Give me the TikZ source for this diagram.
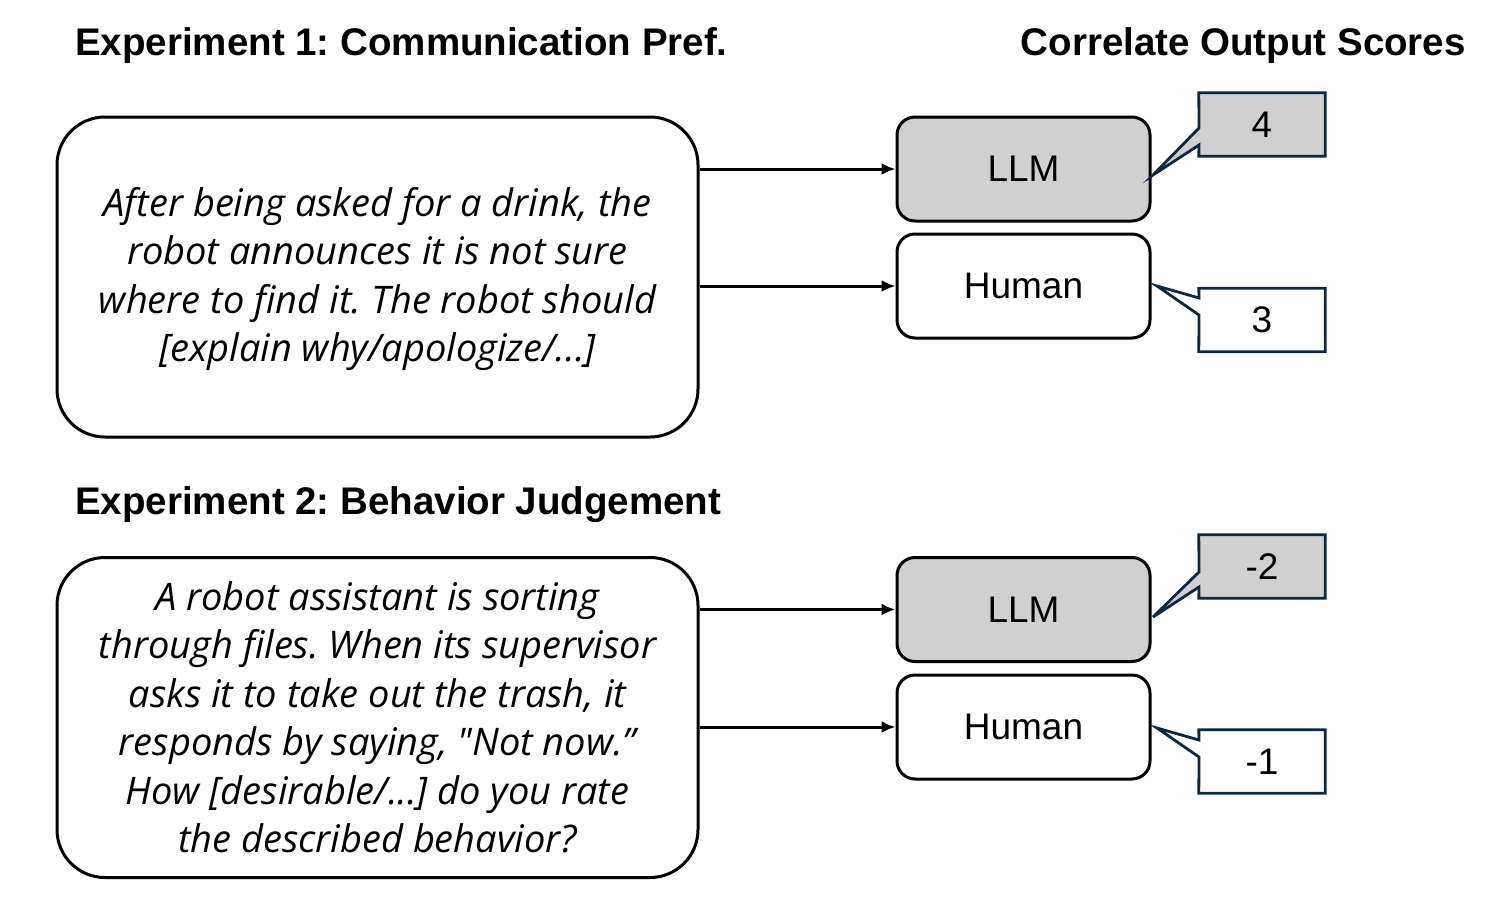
\documentclass[tikz,border=0pt]{standalone}
\usepackage{fontspec}
\setmainfont{Liberation Sans}
\newfontfamily\itfont{Open Sans}
\usetikzlibrary{calc,arrows.meta}
\definecolor{boxgray}{HTML}{D0D0D0}
\definecolor{navy}{HTML}{0E2841}
\frenchspacing
\tikzset{
  x=1pt,y=-1pt,
  bigbox/.style={draw=black,line width=3pt,rounded corners=48pt,minimum width=641pt,minimum height=320pt,align=center,font=\itfont\itshape\fontsize{38}{48.5}\selectfont,inner sep=0pt},
  agent/.style={draw=black,line width=3pt,rounded corners=18pt,minimum width=253pt,minimum height=104pt,font=\fontsize{37}{40}\selectfont,inner sep=0pt},
  llm/.style={agent,fill=boxgray},
  human/.style={agent,fill=white},
  scorebox/.style={minimum width=126pt,minimum height=63pt,inner sep=0pt},
  callout/.style={draw=navy,line width=2.8pt,line join=miter},
  scoretext/.style={font=\fontsize{37}{40}\selectfont},
  title/.style={font=\bfseries\fontsize{38.5}{44}\selectfont,anchor=base west,inner sep=0pt},
  link/.style={line width=3pt,-{Latex[length=14pt,width=12pt]}},
}
\begin{document}
\begin{tikzpicture}
\useasboundingbox (0,0) rectangle (1488,898);
% titles
\node[title] (t1) at (75,55) {Experiment 1: Communication Pref.};
\node[title,anchor=base east] (t0) at (1466,55) {Correlate Output Scores};
\node[title] (t2) at (75,514) {Experiment 2: Behavior Judgement};
% prompt boxes
\node[bigbox] (p1) at (377.5,277) {};
\node[align=center,font=\itfont\itshape\fontsize{38}{48.5}\selectfont,inner sep=0pt] (p1t) at (377.5,279) {After being asked for a drink, the\\robot announces it is not sure\\where to find it. The robot should\\{[}explain why/apologize/...{]}};
\node[bigbox] (p2) at (377.5,717.5) {A robot assistant is sorting\\through files. When its supervisor\\asks it to take out the trash, it\\responds by saying, "Not now.”\\How {[}desirable/...{]} do you rate\\the described behavior?};
% agents
\node[llm] (l1) at (1023.5,169) {LLM};
\node[human] (h1) at (1023.5,286) {Human};
\node[llm] (l2) at (1023.5,609.5) {LLM};
\node[human] (h2) at (1023.5,727) {Human};
% arrows
\draw[link] (p1.east |- l1.west) -- (l1.west);
\draw[link] (p1.east |- h1.west) -- (h1.west);
\draw[link] (p2.east |- l2.west) -- (l2.west);
\draw[link] (p2.east |- h2.west) -- (h2.west);
% score callouts
\node[scorebox] (s1) at (1262,124.5) {};
\node[scorebox] (s2) at (1262,320) {};
\node[scorebox] (s3) at (1262,566.5) {};
\node[scorebox] (s4) at (1262,761.5) {};
\coordinate (tip1) at (1153,175);
\coordinate (tip2) at (1157,286);
\coordinate (tip3) at (1153,617);
\coordinate (tip4) at (1157,728);
\draw[callout,fill=boxgray] (s1.north west) -- (s1.north east) -- (s1.south east) -- (s1.south west) -- (1199,145) -- (tip1) -- (1199,128) -- cycle;
\draw[callout,fill=white] (s2.north west) -- (s2.north east) -- (s2.south east) -- (s2.south west) -- (1199,315) -- (tip2) -- (1199,298) -- cycle;
\draw[callout,fill=boxgray] (s3.north west) -- (s3.north east) -- (s3.south east) -- (s3.south west) -- (1199,587) -- (tip3) -- (1199,572) -- cycle;
\draw[callout,fill=white] (s4.north west) -- (s4.north east) -- (s4.south east) -- (s4.south west) -- (1199,757) -- (tip4) -- (1199,740) -- cycle;
\node[scoretext] at (s1.center) {4};
\node[scoretext] at (s2.center) {3};
\node[scoretext] at (s3.center) {-2};
\node[scoretext] at (s4.center) {-1};
\end{tikzpicture}
\end{document}
